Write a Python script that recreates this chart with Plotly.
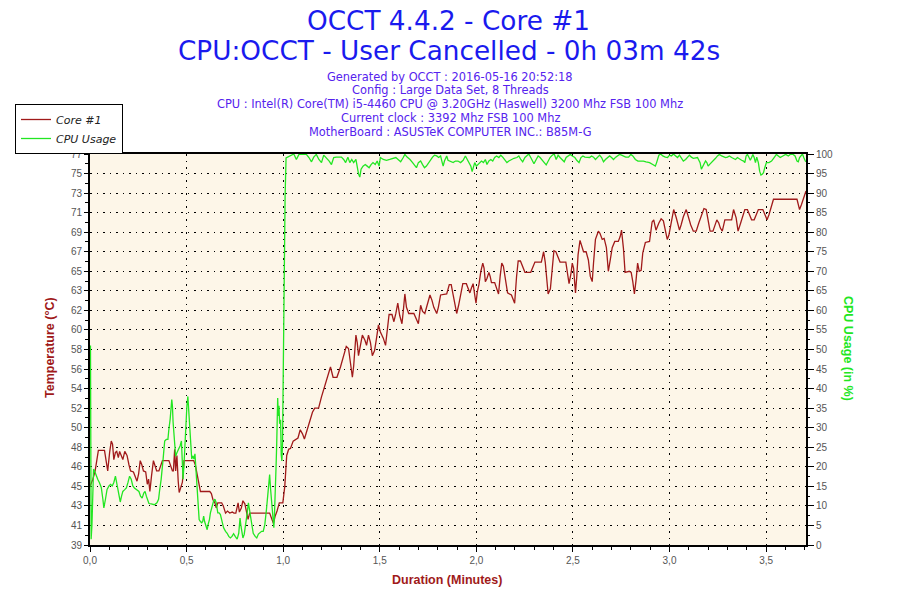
import plotly.graph_objects as go

# ---------------- data ----------------
# Core #1 temperature: time in seconds, temperature in degC
temp_t = [0.0, 0.9, 1.6, 2.1, 2.6, 4.5, 5.0, 5.5, 6.1, 6.6, 7.0, 7.4, 7.9, 8.3, 8.8, 9.2, 9.7, 10.2,
          10.8, 11.5, 12.1, 12.6, 13.5, 14.2, 14.6, 15.1, 15.6, 16.1, 16.6, 17.3, 17.8, 18.2, 18.6,
          19.1, 19.7, 20.2, 20.7, 21.4, 21.9, 22.5, 24.5, 25.0, 25.6, 25.9, 26.3, 26.6, 27.0, 27.4,
          27.7, 28.2, 28.7, 29.2, 32.2, 32.7, 33.2, 33.8, 34.3, 37.2, 37.7, 38.2, 38.8, 39.2, 39.7,
          40.9, 41.4, 42.1, 42.7, 43.4, 44.2, 44.7, 45.3, 46.0, 46.4, 47.0, 47.5, 48.1, 48.6, 49.1,
          49.6, 55.8, 56.5, 57.0, 57.5, 58.1, 58.8, 59.9, 60.5, 61.1, 61.7, 62.3, 63.1, 63.9, 64.6,
          65.3, 66.0, 66.6, 67.2, 68.2, 69.1, 69.8, 71.0, 71.9, 72.9, 73.9, 74.7, 75.5, 76.7, 77.8,
          78.8, 79.6, 80.3, 80.9, 81.5, 81.9, 82.6, 83.0, 83.4, 84.0, 84.6, 85.4, 85.9, 86.5, 87.1,
          87.7, 88.4, 89.0, 89.6, 90.2, 91.1, 91.8, 92.5, 92.9, 93.8, 94.4, 95.0, 95.6, 96.2, 96.9,
          97.3, 97.8, 98.3, 99.0, 100.6, 101.4, 102.0, 102.7, 103.3, 104.0, 104.7, 105.6, 106.2,
          106.8, 107.7, 108.2, 108.9, 110.8, 111.6, 112.2, 112.8, 113.3, 113.9, 114.5, 115.1, 115.8,
          116.9, 117.4, 118.0, 118.5, 119.0, 119.5, 119.9, 120.3, 120.8, 121.4, 122.0, 122.4, 122.8,
          123.3, 123.9, 124.3, 124.7, 125.7, 126.3, 126.9, 127.4, 127.9, 128.4, 129.0, 129.7, 130.9,
          131.4, 131.9, 132.5, 133.0, 133.7, 134.2, 135.1, 136.9, 137.6, 138.2, 140.2, 140.9, 141.4,
          141.8, 142.3, 143.0, 143.6, 144.1, 144.7, 145.4, 146.0, 147.8, 148.3, 148.8, 149.4, 149.8,
          150.2, 150.5, 150.8, 151.2, 151.6, 152.2, 152.7, 153.3, 154.1, 154.8, 155.4, 156.0, 156.4,
          157.0, 157.9, 158.4, 159.1, 159.7, 160.4, 161.0, 161.6, 162.2, 163.0, 164.1, 164.7, 165.1,
          165.7, 166.2, 167.5, 168.1, 168.6, 169.1, 169.6, 170.1, 170.6, 171.2, 171.7, 172.5, 173.8,
          174.6, 175.1, 175.8, 176.7, 177.4, 178.1, 178.7, 179.3, 179.8, 180.3, 180.8, 181.3, 182.1,
          182.6, 183.1, 183.6, 184.3, 185.2, 185.9, 186.6, 187.4, 188.3, 189.1, 189.9, 190.7, 191.4,
          192.0, 192.6, 193.5, 194.1, 194.7, 195.3, 195.8, 196.4, 197.2, 199.3, 199.9, 200.7, 201.3,
          202.1, 202.8, 203.4, 204.2, 204.9, 205.5, 206.3, 206.9, 207.6, 209.0, 209.6, 210.3, 210.9,
          211.6, 212.3, 219.6, 220.0, 220.4, 221.0, 221.7, 222.4]
temp_v = [44.7, 45.4, 46.2, 47.3, 48.2, 48.2, 47.2, 46.2, 48.0, 49.1, 48.8, 47.3, 48.0, 48.1, 47.5, 48.1,
          47.7, 47.3, 48.1, 47.7, 46.8, 46.2, 46.1, 45.5, 45.2, 45.9, 47.2, 46.8, 46.2, 46.1, 44.9,
          45.4, 44.2, 45.7, 47.2, 46.7, 46.2, 46.2, 46.6, 47.2, 47.2, 46.8, 46.2, 46.2, 48.3, 46.2,
          47.7, 45.2, 44.1, 44.6, 45.1, 47.2, 47.2, 46.8, 45.9, 44.9, 44.2, 44.2, 44.0, 43.4, 43.1,
          42.6, 43.1, 43.1, 42.8, 42.1, 42.3, 42.1, 42.2, 42.1, 42.1, 43.1, 42.2, 42.6, 43.3, 43.0,
          42.2, 41.5, 42.1, 42.1, 41.5, 41.1, 41.8, 42.3, 43.1, 43.1, 44.7, 47.7, 48.3, 48.4, 49.1,
          49.3, 49.4, 50.2, 49.8, 49.3, 49.9, 51.1, 51.9, 52.3, 52.3, 53.4, 54.5, 55.6, 56.3, 55.3,
          55.3, 56.3, 57.4, 58.3, 58.1, 56.9, 55.3, 56.4, 59.4, 58.7, 57.4, 58.4, 59.4, 58.9, 58.4,
          59.4, 58.7, 57.4, 57.9, 59.1, 60.4, 59.7, 59.1, 58.4, 60.5, 61.4, 61.4, 60.7, 61.5, 62.5,
          61.3, 60.5, 61.7, 63.4, 62.1, 61.5, 61.5, 61.0, 60.5, 62.3, 61.7, 61.5, 62.3, 63.3, 62.8,
          62.1, 61.5, 62.1, 63.3, 63.4, 64.3, 64.3, 63.3, 62.5, 61.5, 62.3, 63.3, 64.4, 64.4, 63.9,
          63.5, 64.0, 64.4, 63.3, 62.5, 63.6, 64.3, 65.6, 66.4, 65.9, 64.6, 64.9, 65.5, 65.1, 64.5,
          64.5, 63.9, 63.4, 65.1, 66.4, 66.1, 64.7, 63.5, 63.3, 62.8, 62.5, 65.1, 66.6, 66.6, 66.2,
          65.5, 65.5, 66.1, 66.5, 66.5, 67.5, 66.5, 64.9, 63.4, 63.9, 66.4, 67.6, 67.5, 66.9, 66.5,
          66.5, 65.6, 64.4, 65.4, 66.4, 65.9, 64.4, 63.5, 65.1, 67.2, 68.6, 68.0, 67.5, 67.5, 66.7,
          65.1, 64.6, 66.4, 68.7, 69.5, 69.3, 68.7, 68.8, 67.9, 65.6, 66.7, 67.9, 68.5, 68.5, 69.0,
          69.6, 67.8, 65.5, 65.6, 65.5, 64.6, 63.4, 64.7, 66.4, 65.6, 65.7, 67.4, 68.4, 68.5, 70.4,
          70.6, 69.6, 70.3, 70.7, 70.5, 69.6, 68.7, 69.1, 69.9, 70.9, 71.6, 70.8, 70.1, 69.6, 70.1,
          70.9, 71.6, 70.8, 70.1, 69.5, 69.5, 70.3, 71.1, 71.7, 71.6, 70.6, 69.5, 69.5, 70.1, 70.6,
          70.3, 69.8, 69.5, 70.6, 70.6, 71.6, 70.8, 69.5, 70.3, 71.1, 71.6, 71.6, 71.1, 70.6, 70.6,
          71.1, 71.6, 71.6, 71.2, 70.6, 71.1, 71.9, 72.6, 72.6, 72.1, 71.6, 72.1, 72.7, 73.4]

# CPU usage: time in seconds, usage in %
cpu_t = [0.15, 0.35, 0.6, 0.9, 1.1, 1.4, 1.9, 2.4, 2.9, 3.5, 4.0, 4.3, 4.8, 5.3, 5.9, 6.4, 6.9, 7.4, 7.9,
         8.4, 8.9, 9.4, 9.8, 10.2, 10.7, 11.3, 11.8, 12.3, 12.8, 13.3, 13.8, 14.4, 15.2, 15.7, 16.2,
         16.7, 17.1, 17.5, 17.9, 18.3, 19.0, 20.0, 20.8, 21.3, 21.6, 22.1, 22.7, 23.2, 23.7, 24.2,
         24.5, 24.9, 25.4, 25.6, 25.8, 26.2, 26.6, 27.0, 27.6, 28.0, 28.4, 28.6, 28.9, 29.2, 29.5,
         29.8, 30.1, 30.4, 30.8, 31.2, 31.6, 31.9, 32.3, 32.6, 33.0, 33.4, 33.9, 34.3, 34.7, 35.0,
         35.3, 35.6, 36.1, 36.4, 36.7, 37.1, 37.4, 37.9, 38.4, 38.8, 39.2, 39.7, 40.1, 40.5, 41.0,
         41.5, 42.1, 42.6, 43.1, 43.6, 44.1, 44.6, 45.1, 45.7, 46.2, 46.6, 46.9, 47.2, 47.5, 47.9,
         48.3, 48.7, 49.2, 49.7, 50.2, 50.7, 51.3, 51.8, 52.3, 52.8, 53.3, 53.8, 54.3, 54.8, 55.2,
         55.5, 55.8, 56.1, 56.5, 56.8, 57.1, 57.3, 57.5, 57.8, 58.0, 58.3, 58.5, 58.7, 58.9, 59.2,
         59.4, 59.6, 59.8, 60.0, 60.2, 60.4, 60.6, 60.9, 61.5, 62.5, 63.3, 64.1, 64.9, 66.2, 67.2,
         68.0, 68.8, 69.5, 70.3, 71.1, 71.9, 72.6, 73.4, 74.3, 75.0, 75.7, 76.5, 77.4, 78.1, 78.8,
         79.4, 80.1, 80.7, 81.3, 81.9, 82.6, 83.0, 83.4, 83.8, 84.2, 84.8, 85.5, 86.1, 86.7, 87.3,
         87.9, 88.6, 89.2, 89.8, 90.2, 91.1, 92.1, 93.1, 94.2, 95.0, 95.7, 96.5, 97.3, 97.8, 98.5,
         99.4, 100.2, 100.9, 101.4, 102.0, 102.7, 103.3, 103.9, 104.5, 105.2, 105.8, 106.4, 107.0,
         107.7, 108.3, 108.9, 109.4, 109.7, 110.1, 110.8, 111.2, 112.0, 112.8, 113.5, 114.3, 115.1,
         115.9, 116.6, 117.2, 117.7, 118.3, 118.7, 119.1, 119.5, 120.0, 120.5, 121.1, 121.6, 122.2,
         122.8, 123.3, 123.9, 124.5, 125.1, 125.7, 126.3, 127.0, 127.6, 128.2, 128.8, 129.5, 130.1,
         130.9, 131.7, 132.6, 133.2, 133.8, 134.4, 135.1, 135.7, 136.3, 136.9, 137.5, 137.9, 138.6,
         139.2, 139.8, 140.4, 141.1, 141.7, 142.3, 142.9, 143.6, 144.2, 144.8, 145.4, 146.0, 146.7,
         147.3, 147.9, 148.5, 149.2, 149.8, 150.6, 151.2, 151.9, 152.5, 153.1, 153.7, 154.5, 155.2,
         155.8, 156.4, 157.0, 157.7, 158.3, 158.9, 159.5, 160.1, 160.8, 161.4, 162.0, 162.6, 163.3,
         163.9, 164.5, 165.1, 165.7, 166.4, 167.3, 168.0, 168.6, 169.4, 170.2, 171.1, 171.9, 172.7,
         173.8, 174.8, 175.6, 176.0, 176.7, 177.3, 177.9, 178.7, 179.4, 180.0, 180.6, 181.2, 181.8,
         182.5, 183.1, 183.7, 184.3, 185.0, 185.6, 186.2, 186.8, 187.4, 188.7, 189.1, 189.5, 189.9,
         190.4, 190.8, 191.2, 191.6, 192.0, 192.4, 193.0, 193.7, 194.3, 194.9, 195.5, 196.2, 196.8,
         197.4, 198.0, 198.6, 199.3, 199.9, 200.5, 201.1, 201.8, 202.4, 203.0, 203.4, 203.8, 204.2,
         204.7, 205.1, 205.5, 205.9, 206.3, 206.7, 207.1, 207.6, 208.0, 208.4, 208.8, 209.2, 209.6,
         210.1, 210.9, 211.7, 212.5, 213.2, 213.8, 214.4, 215.2, 216.1, 216.9, 217.7, 218.4, 219.0,
         219.6, 220.0, 220.4, 220.8, 221.3, 221.7, 222.3]
cpu_v = [51.0, 1.5, 5.0, 17.0, 19.4, 19.0, 17.6, 16.8, 16.0, 14.7, 11.7, 9.5, 11.7, 14.2, 15.1, 15.5,
         15.1, 16.0, 17.6, 15.1, 12.5, 11.0, 12.5, 13.7, 14.1, 14.6, 16.0, 17.6, 16.8, 15.1, 14.6,
         14.1, 13.7, 12.5, 12.0, 13.3, 13.7, 12.5, 11.7, 10.6, 10.5, 10.3, 10.8, 11.7, 13.8, 16.8,
         21.9, 26.6, 27.0, 27.0, 29.6, 32.2, 37.2, 35.6, 31.5, 27.0, 22.7, 23.6, 24.5, 25.4, 26.6,
         20.6, 16.8, 20.6, 27.0, 32.2, 35.6, 38.0, 33.0, 28.8, 22.0, 22.8, 22.0, 23.3, 17.6, 10.8,
         6.5, 6.0, 5.7, 6.0, 7.4, 6.0, 4.4, 3.9, 5.3, 6.5, 8.2, 10.0, 11.3, 11.7, 10.8, 8.2, 8.2,
         7.8, 6.0, 4.4, 3.5, 3.0, 2.2, 1.8, 2.2, 2.9, 2.2, 1.5, 3.0, 6.9, 4.8, 2.7, 1.8, 2.7, 4.8,
         7.4, 10.8, 8.2, 5.2, 3.0, 2.2, 1.8, 2.8, 3.3, 3.5, 3.5, 5.2, 9.0, 12.5, 16.8, 18.0, 14.2,
         10.0, 6.5, 4.4, 7.8, 15.9, 20.2, 26.0, 37.6, 33.0, 35.6, 31.0, 32.0, 23.0, 21.5, 26.0,
         47.0, 61.4, 70.0, 89.2, 99.0, 99.2, 99.7, 100.0, 98.6, 99.9, 100.0, 99.9, 99.1, 98.0,
         99.2, 99.9, 98.6, 97.8, 99.7, 99.1, 98.2, 97.3, 99.1, 99.2, 99.1, 99.2, 98.6, 97.8, 99.2,
         97.8, 98.6, 97.8, 98.6, 96.5, 94.9, 94.1, 96.1, 96.9, 97.3, 96.9, 96.5, 97.3, 97.8, 97.3,
         98.2, 96.9, 99.1, 98.6, 98.4, 98.6, 98.9, 99.1, 98.6, 98.0, 99.1, 99.9, 99.2, 98.6, 97.8,
         96.9, 96.5, 97.8, 98.2, 97.3, 96.5, 96.9, 97.8, 98.6, 99.2, 99.7, 99.5, 99.1, 99.5, 97.8,
         96.9, 98.2, 99.5, 98.4, 98.0, 97.8, 98.2, 98.2, 97.8, 98.4, 99.5, 98.6, 97.8, 96.9, 95.5,
         96.9, 97.8, 96.9, 97.3, 97.8, 98.2, 97.8, 98.6, 97.3, 98.2, 98.6, 98.2, 99.1, 99.5, 99.1,
         99.7, 99.2, 98.6, 97.8, 98.2, 98.6, 98.9, 99.1, 99.5, 98.6, 98.0, 99.1, 99.7, 100.0, 99.1,
         98.0, 97.5, 98.6, 99.5, 99.1, 98.6, 97.8, 97.2, 98.2, 99.1, 99.7, 100.0, 98.6, 99.7, 99.1,
         98.6, 98.0, 99.1, 99.5, 99.9, 99.5, 99.1, 98.4, 97.8, 99.1, 99.5, 99.2, 99.2, 99.1, 99.5,
         99.2, 98.6, 99.2, 99.7, 99.1, 98.0, 98.6, 99.1, 99.5, 99.1, 98.6, 99.2, 99.5, 99.9, 99.7,
         99.5, 99.2, 99.2, 99.9, 99.5, 98.6, 98.2, 98.2, 98.2, 98.0, 97.8, 97.3, 96.9, 97.8, 99.7,
         100.0, 99.5, 99.2, 99.1, 99.7, 99.5, 100.0, 99.5, 99.1, 99.7, 99.1, 98.2, 98.6, 99.2, 99.7,
         99.2, 98.9, 99.1, 98.4, 97.8, 96.1, 96.9, 97.8, 98.2, 97.8, 96.9, 97.3, 97.8, 98.2, 98.9,
         99.5, 99.9, 99.5, 99.2, 99.1, 99.2, 99.5, 99.1, 98.9, 98.6, 99.1, 98.6, 98.4, 98.2, 97.8,
         99.5, 99.9, 99.1, 98.4, 99.1, 99.9, 99.1, 97.8, 99.2, 97.8, 95.6, 94.6, 94.8, 95.2, 96.5,
         97.8, 97.8, 98.2, 99.1, 99.9, 99.5, 99.1, 99.5, 99.9, 99.5, 100.0, 99.9, 99.5, 98.2, 98.0,
         99.1, 99.5, 100.0, 99.1, 98.0]

# axis tick labels as printed on the chart
temp_tick_labels = ["39", "41", "43", "45", "46", "48", "50", "52", "54", "56", "58",
                    "60", "62", "63", "65", "67", "69", "71", "73", "75", "77"]
temp_range = [39, 77]
cpu_range = [0, 100]
duration_seconds = 222.4

title_lines = ["OCCT 4.4.2 - Core #1", "CPU:OCCT - User Cancelled - 0h 03m 42s"]
info_lines = ["Generated by OCCT : 2016-05-16 20:52:18",
              "Config : Large Data Set, 8 Threads",
              "CPU : Intel(R) Core(TM) i5-4460 CPU @ 3.20GHz (Haswell) 3200 Mhz FSB 100 Mhz",
              "Current clock : 3392 Mhz FSB 100 Mhz",
              "MotherBoard : ASUSTeK COMPUTER INC.: B85M-G"]

# ---------------- figure ----------------
W, H = 900, 600
ML, MR, MT, MB = 90, 94, 154, 55
PH = H - MT - MB
PW = W - ML - MR

RED = "#a01a1a"
GREEN = "#22e622"
GRID_DASH = "1.5px,5px"

temp_min = [t / 60 for t in temp_t]
cpu_min = [t / 60 for t in cpu_t]
n_ticks = len(temp_tick_labels)
temp_tickvals = [temp_range[0] + (temp_range[1] - temp_range[0]) * k / (n_ticks - 1)
                 for k in range(n_ticks)]
temp_minorvals = [(a + b) / 2 for a, b in zip(temp_tickvals[:-1], temp_tickvals[1:])]
x_range = [0, duration_seconds / 60]

fig = go.Figure()
fig.add_trace(go.Scatter(x=temp_min, y=temp_v, mode="lines", name="Core #1",
                         line=dict(color=RED, width=1.3)))
fig.add_trace(go.Scatter(x=cpu_min, y=cpu_v, mode="lines", name="CPU Usage", yaxis="y2",
                         line=dict(color=GREEN, width=1.3)))

tickfont = dict(family="Liberation Sans, Arial, sans-serif", size=10, color="#555555")


def py(ypix):
    return (H - MB - ypix) / PH


def px(xpix):
    return (xpix - ML) / PW


TITLE_FONT = "DejaVu Sans, Verdana, sans-serif"
annotations = []
for ypix, line in zip([21, 51], title_lines):
    annotations.append(dict(text=line, x=px(448.5), y=py(ypix), xref="paper", yref="paper",
                            showarrow=False, xanchor="center", yanchor="middle",
                            font=dict(family=TITLE_FONT, size=26.3, color="#1a1aee")))
for i, line in enumerate(info_lines):
    annotations.append(dict(text=line, x=px(450), y=py(76.5 + 13.9 * i), xref="paper", yref="paper",
                            showarrow=False, xanchor="center", yanchor="middle",
                            font=dict(family=TITLE_FONT, size=11.4, color="#5522ee")))
AXT_FONT = "Liberation Sans, Arial, sans-serif"
annotations.append(dict(text="<b>Duration (Minutes)</b>", x=px(447), y=py(580), xref="paper",
                        yref="paper", showarrow=False, xanchor="center", yanchor="middle",
                        font=dict(family=AXT_FONT, size=12.5, color=RED)))
annotations.append(dict(text="<b>Temperature (°C)</b>", x=px(50), y=py(348),
                        xref="paper", yref="paper", showarrow=False, textangle=-90,
                        xanchor="center", yanchor="middle",
                        font=dict(family=AXT_FONT, size=12.5, color=RED)))
annotations.append(dict(text="<b>CPU Usage (in %)</b>", x=px(848), y=py(348),
                        xref="paper", yref="paper", showarrow=False, textangle=90,
                        xanchor="center", yanchor="middle",
                        font=dict(family=AXT_FONT, size=12.5, color=GREEN)))

inside_ticks = dict(showgrid=False, zeroline=False, showline=False, showticklabels=False,
                    ticks="inside", tickwidth=1, tickcolor="black")

fig.update_layout(
    width=W, height=H,
    margin=dict(l=ML, r=MR, t=MT, b=MB, pad=0, autoexpand=False),
    paper_bgcolor="white",
    plot_bgcolor="#fdf6e8",
    separators=", ",
    showlegend=True,
    legend=dict(xref="container", yref="container", x=15 / W, y=1 - 104 / H,
                xanchor="left", yanchor="top", bgcolor="white", bordercolor="black",
                borderwidth=1, font=dict(family=TITLE_FONT, size=11,
                                         style="italic", color="#222222"),
                tracegroupgap=0, itemwidth=30),
    xaxis=dict(range=x_range, tick0=0, dtick=0.5, tickformat=".1f",
               showgrid=True, gridcolor="black", griddash=GRID_DASH, gridwidth=1,
               zeroline=False, showline=True, linecolor="black", linewidth=2, mirror=True,
               ticks="outside", ticklen=5, tickwidth=1, tickcolor="black", tickfont=tickfont,
               layer="below traces",
               minor=dict(dtick=0.1, tick0=0, ticks="outside", ticklen=3, tickcolor="black",
                          showgrid=False)),
    xaxis2=dict(inside_ticks, overlaying="x", anchor="y", side="bottom", range=x_range,
                tick0=0, dtick=0.5, ticklen=5,
                minor=dict(dtick=0.1, tick0=0, ticks="inside", ticklen=3, tickcolor="black",
                           showgrid=False)),
    yaxis=dict(range=temp_range, tickmode="array", tickvals=temp_tickvals, ticktext=temp_tick_labels,
               showgrid=True, gridcolor="black", griddash=GRID_DASH, gridwidth=1,
               zeroline=False, showline=True, linecolor="black", linewidth=2,
               ticks="outside", ticklen=4, tickwidth=1, tickcolor="black", tickfont=tickfont,
               layer="below traces",
               minor=dict(tickmode="array", tickvals=temp_minorvals,
                          ticks="outside", ticklen=3, tickcolor="black", showgrid=False)),
    yaxis3=dict(inside_ticks, overlaying="y", anchor="x", side="left", range=temp_range,
                tickmode="array", tickvals=temp_tickvals, ticklen=5),
    yaxis2=dict(range=cpu_range, overlaying="y", side="right", anchor="x", tick0=0, dtick=5,
                showgrid=False, zeroline=False, showline=True, linecolor="black", linewidth=2,
                ticks="outside", ticklen=6, tickwidth=1, tickcolor="black", tickfont=tickfont,
                minor=dict(dtick=2.5, tick0=0, ticks="outside", ticklen=2, tickcolor="black",
                           showgrid=False)),
    yaxis4=dict(inside_ticks, overlaying="y", anchor="x", side="right", range=cpu_range,
                tick0=0, dtick=5, ticklen=7,
                minor=dict(dtick=2.5, tick0=0, ticks="inside", ticklen=3, tickcolor="black",
                           showgrid=False)),
    annotations=annotations,
)

fig.write_html("out.html", config={"displayModeBar": False},
               post_script="document.body.style.margin='0px';")
